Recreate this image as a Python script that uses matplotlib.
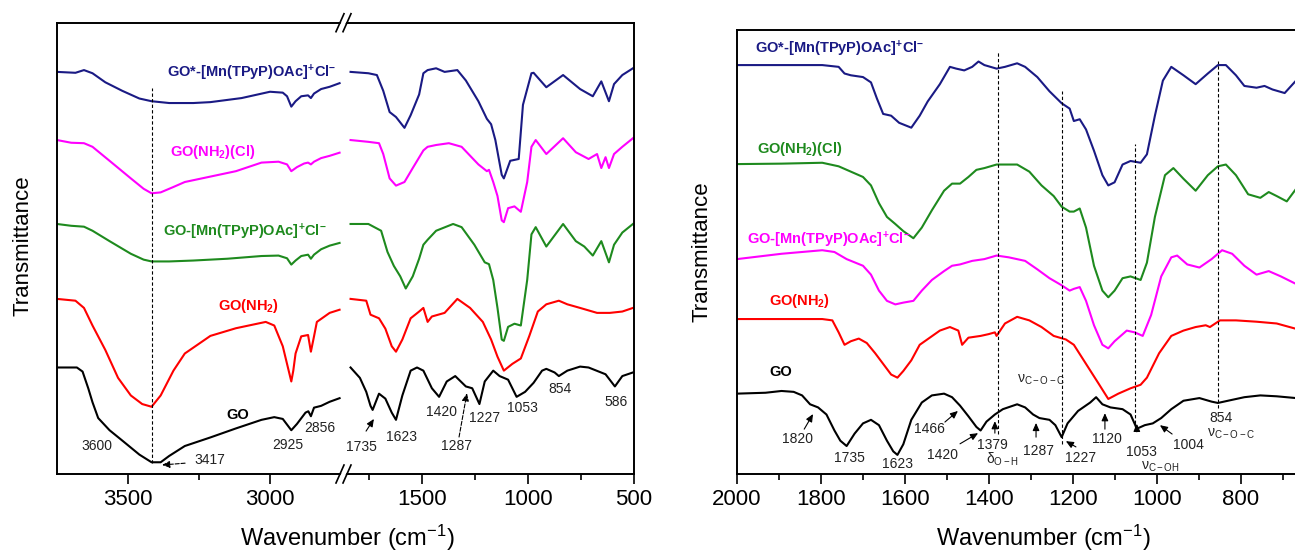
import matplotlib
matplotlib.use('Agg')
import matplotlib.pyplot as plt
from matplotlib.lines import Line2D
from matplotlib.patches import Polygon
from matplotlib.ticker import FixedLocator

plt.rcParams['font.family'] = ['Liberation Sans', 'DejaVu Sans']
plt.rcParams['mathtext.fontset'] = 'custom'
plt.rcParams['mathtext.rm'] = 'Liberation Sans'
plt.rcParams['mathtext.it'] = 'Liberation Sans:italic'
plt.rcParams['mathtext.bf'] = 'Liberation Sans:bold'
plt.rcParams['mathtext.default'] = 'regular'

# ---------------- data: left panel, high-wavenumber segment (3750-2750) ----------------
L_GO_hi_wn = [3750, 3680, 3660, 3640, 3625, 3605, 3565, 3520, 3460, 3417, 3385, 3355, 3300, 3210, 3120,
              3030, 2985, 2955, 2925, 2905, 2875, 2865, 2856, 2845, 2820, 2790, 2755]
L_GO_hi_y = [23.6, 23.6, 22.7, 19.0, 15.9, 12.4, 9.7, 7.4, 4.3, 2.6, 2.6, 4.0, 6.2, 8.1, 10.1,
             12.0, 12.6, 12.2, 9.7, 11.1, 13.6, 13.9, 12.8, 14.7, 15.1, 16.0, 16.8]

L_NH2_hi_wn = [3750, 3685, 3655, 3625, 3580, 3535, 3490, 3450, 3417, 3385, 3340, 3300, 3210, 3120, 3015,
               2985, 2955, 2940, 2925, 2918, 2910, 2890, 2866, 2856, 2845, 2835, 2790, 2755]
L_NH2_hi_y = [38.8, 38.4, 36.8, 32.9, 27.5, 21.3, 17.4, 15.5, 14.9, 17.4, 22.9, 26.7, 30.6, 32.3, 33.7,
              32.9, 28.3, 24.4, 20.5, 22.9, 26.7, 30.5, 30.8, 27.1, 30.5, 33.7, 35.7, 36.4]

L_MN_hi_wn = [3750, 3700, 3655, 3625, 3565, 3490, 3445, 3417, 3355, 3270, 3150, 3030, 2970, 2940, 2925,
              2910, 2890, 2866, 2856, 2845, 2820, 2790, 2755]
L_MN_hi_y = [55.4, 55.0, 54.8, 53.9, 51.6, 48.8, 47.5, 47.1, 47.1, 47.3, 47.7, 48.3, 48.4, 47.8, 46.4,
             47.3, 48.3, 48.6, 47.7, 48.6, 49.8, 50.6, 51.2]

L_NH2CL_hi_wn = [3750, 3700, 3655, 3625, 3565, 3490, 3445, 3417, 3385, 3340, 3300, 3210, 3120, 3030, 2970,
                 2940, 2925, 2905, 2880, 2866, 2856, 2845, 2820, 2790, 2755]
L_NH2CL_hi_y = [74.0, 73.4, 73.3, 72.5, 69.4, 65.5, 63.2, 62.2, 62.4, 63.6, 64.7, 65.9, 67.1, 69.0, 69.2,
                68.6, 67.1, 68.0, 68.8, 69.0, 68.6, 69.2, 70.0, 70.5, 71.2]

L_STAR_hi_wn = [3750, 3685, 3655, 3625, 3580, 3520, 3460, 3417, 3355, 3270, 3210, 3100, 3000, 2955, 2940,
                2925, 2910, 2890, 2866, 2856, 2845, 2820, 2790, 2755]
L_STAR_hi_y = [89.1, 88.9, 89.5, 88.8, 86.8, 84.9, 83.2, 82.6, 82.2, 82.2, 82.4, 83.3, 84.7, 84.5, 83.7,
               81.4, 82.6, 83.7, 83.9, 83.3, 84.3, 85.3, 85.8, 86.6]

# ---------------- data: left panel, low-wavenumber segment (1880-500) ----------------
L_GO_lo_wn = [1835, 1791, 1761, 1741, 1731, 1701, 1671, 1641, 1621, 1591, 1552, 1522, 1492, 1452, 1418,
              1382, 1342, 1292, 1262, 1228, 1203, 1163, 1133, 1093, 1053, 1013, 973, 933, 913, 874, 854,
              814, 754, 714, 634, 590, 555, 505]
L_GO_lo_y = [23.6, 21.3, 18.2, 15.1, 14.2, 17.8, 16.7, 13.6, 12.0, 17.4, 22.9, 23.6, 22.9, 19.0, 17.1,
             20.5, 21.7, 19.4, 19.0, 15.5, 20.5, 22.9, 21.7, 20.9, 17.1, 18.2, 20.2, 22.9, 23.3, 22.5, 21.7,
             22.9, 23.8, 23.6, 22.1, 19.4, 21.7, 22.5]

L_NH2_lo_wn = [1835, 1761, 1741, 1721, 1701, 1671, 1641, 1621, 1591, 1552, 1512, 1492, 1472, 1452, 1392,
               1332, 1272, 1212, 1173, 1143, 1113, 1073, 1033, 993, 953, 913, 854, 814, 754, 674, 614,
               555, 505]
L_NH2_lo_y = [38.8, 38.4, 35.3, 34.9, 34.5, 32.2, 28.3, 27.1, 29.8, 34.5, 36.0, 36.8, 33.7, 34.9, 35.7,
              38.8, 36.8, 33.7, 29.8, 26.0, 22.9, 24.4, 25.6, 30.6, 36.0, 37.6, 38.4, 37.6, 36.8, 35.7, 35.7,
              36.0, 36.8]

L_MN_lo_wn = [1835, 1751, 1691, 1661, 1631, 1601, 1575, 1542, 1512, 1492, 1472, 1432, 1352, 1312, 1252,
              1203, 1183, 1163, 1143, 1123, 1113, 1093, 1063, 1033, 1003, 983, 963, 913, 834, 774, 734,
              694, 654, 618, 594, 555, 505]
L_MN_lo_y = [55.4, 55.4, 53.9, 49.2, 46.1, 43.8, 41.1, 43.8, 47.7, 50.8, 51.9, 53.9, 55.4, 54.7, 50.8,
             46.9, 46.5, 43.0, 36.8, 29.8, 29.5, 32.6, 33.3, 32.9, 43.0, 53.1, 54.7, 50.4, 55.4, 51.6, 50.4,
             48.4, 51.6, 46.9, 50.8, 53.5, 55.4]

L_NH2CL_lo_wn = [1835, 1751, 1701, 1681, 1651, 1621, 1581, 1542, 1492, 1472, 1432, 1372, 1312, 1233, 1193,
                 1183, 1163, 1143, 1123, 1113, 1093, 1063, 1033, 1003, 983, 963, 913, 834, 774, 714, 674,
                 654, 634, 618, 594, 555, 505]
L_NH2CL_lo_y = [74.0, 73.6, 73.3, 70.9, 65.5, 63.9, 64.7, 67.8, 71.7, 72.5, 72.9, 73.3, 72.5, 68.6, 67.1,
                67.4, 64.7, 61.6, 56.2, 55.8, 58.9, 59.3, 58.1, 64.7, 72.5, 74.0, 70.9, 74.4, 71.3, 69.8, 70.9,
                67.8, 70.2, 67.8, 70.9, 72.5, 74.4]

L_STAR_lo_wn = [1835, 1751, 1711, 1681, 1651, 1621, 1581, 1552, 1512, 1492, 1472, 1432, 1392, 1332, 1292,
                1233, 1193, 1173, 1153, 1123, 1113, 1083, 1043, 1023, 983, 973, 913, 834, 754, 694, 654,
                618, 594, 555, 505]
L_STAR_lo_y = [89.1, 88.8, 88.4, 84.9, 80.2, 79.1, 76.7, 79.5, 84.1, 88.8, 89.5, 89.9, 89.1, 89.5, 87.2,
               82.6, 78.7, 77.5, 74.0, 66.3, 65.5, 69.4, 69.8, 81.8, 88.8, 88.9, 85.7, 88.4, 85.3, 83.7, 87.0,
               82.6, 86.4, 88.4, 89.9]

# ---------------- data: right panel (2000-600) ----------------
R_GO_wn = [2000, 1932, 1894, 1865, 1845, 1826, 1807, 1787, 1768, 1754, 1739, 1720, 1700, 1681, 1662,
           1643, 1628, 1618, 1604, 1585, 1560, 1536, 1507, 1488, 1469, 1449, 1430, 1420, 1406, 1386,
           1367, 1333, 1314, 1295, 1280, 1256, 1242, 1227, 1213, 1188, 1159, 1145, 1130, 1111, 1082,
           1063, 1048, 1029, 1010, 990, 966, 937, 899, 870, 855, 831, 792, 754, 715, 669]
R_GO_y = [18.1, 18.3, 18.7, 18.5, 17.7, 15.7, 15.0, 13.4, 9.8, 7.5, 6.3, 9.1, 11.4, 12.2, 11.0,
          7.5, 5.1, 4.3, 6.7, 12.2, 16.1, 17.7, 18.1, 17.3, 15.4, 13.0, 10.6, 9.8, 11.8, 13.4,
          14.6, 15.7, 15.0, 13.4, 12.6, 12.2, 11.0, 8.3, 11.4, 14.2, 16.1, 17.3, 15.7, 15.0, 14.6,
          13.4, 10.2, 11.0, 11.4, 12.6, 14.6, 16.5, 17.1, 16.3, 16.0, 16.5, 17.3, 17.7, 17.5, 17.1]

R_NH2_wn = [2000, 1797, 1773, 1758, 1744, 1729, 1710, 1691, 1671, 1652, 1633, 1618, 1604, 1585, 1565,
            1541, 1517, 1493, 1473, 1464, 1449, 1420, 1401, 1386, 1382, 1362, 1333, 1304, 1275, 1246,
            1217, 1198, 1169, 1140, 1116, 1092, 1063, 1039, 1024, 995, 966, 937, 908, 884, 874, 850,
            812, 763, 715, 669]
R_NH2_y = [34.9, 34.9, 34.6, 31.9, 29.1, 29.9, 30.5, 29.5, 27.2, 24.8, 22.4, 21.7, 23.2, 25.6, 29.1,
           30.7, 32.3, 33.1, 32.3, 29.1, 30.7, 31.1, 31.5, 31.9, 31.1, 33.9, 35.4, 34.6, 33.1, 31.1,
           30.3, 29.1, 24.8, 20.5, 16.9, 18.1, 19.3, 20.1, 21.7, 27.2, 31.1, 32.3, 33.1, 33.5, 33.1, 34.6,
           34.6, 34.3, 33.9, 32.7]

R_MN_wn = [2000, 1894, 1797, 1768, 1739, 1700, 1681, 1662, 1643, 1623, 1604, 1580, 1560, 1536, 1507,
           1488, 1469, 1440, 1411, 1382, 1353, 1314, 1285, 1256, 1227, 1208, 1198, 1184, 1169, 1150,
           1130, 1116, 1101, 1072, 1053, 1034, 1014, 990, 966, 952, 928, 899, 870, 845, 821, 792, 763,
           734, 705, 671]
R_MN_y = [48.4, 49.6, 50.4, 50.0, 48.4, 46.9, 44.9, 41.3, 39.0, 38.2, 38.6, 39.0, 41.3, 43.7, 45.7,
          46.9, 47.2, 48.0, 48.4, 49.2, 48.8, 48.0, 46.1, 44.1, 42.5, 41.3, 41.7, 42.1, 39.0, 33.5,
          29.1, 28.3, 29.9, 32.3, 31.9, 31.1, 35.8, 44.5, 48.8, 49.2, 47.2, 46.5, 48.4, 50.4, 49.6, 46.9, 44.9,
          45.7, 44.5, 42.9]

R_NH2CL_wn = [2000, 1894, 1797, 1758, 1729, 1700, 1681, 1662, 1643, 1623, 1604, 1580, 1560, 1536, 1507,
              1488, 1469, 1449, 1430, 1411, 1382, 1362, 1333, 1304, 1275, 1246, 1227, 1208, 1198, 1184,
              1169, 1150, 1130, 1116, 1101, 1082, 1063, 1039, 1024, 1005, 981, 961, 937, 908, 879, 855,
              836, 812, 783, 754, 734, 715, 691, 669]
R_NH2CL_y = [69.8, 69.9, 70.1, 69.3, 68.1, 66.9, 65.0, 61.0, 57.9, 56.3, 54.7, 53.1, 55.5, 59.4, 63.8,
             65.4, 65.4, 66.9, 68.5, 68.9, 69.7, 69.7, 69.7, 68.1, 65.0, 62.6, 60.2, 59.1, 59.1, 59.8,
             55.5, 46.9, 41.3, 39.8, 41.3, 44.1, 44.5, 43.7, 47.6, 57.9, 67.3, 68.9, 66.5, 63.8, 67.3, 69.3,
             69.7, 67.3, 63.0, 62.2, 63.5, 62.6, 61.4, 64.2]

R_STAR_wn = [2000, 1894, 1797, 1758, 1744, 1729, 1700, 1681, 1667, 1652, 1633, 1614, 1585, 1565, 1546,
             1517, 1493, 1478, 1459, 1440, 1425, 1411, 1382, 1362, 1333, 1314, 1285, 1256, 1227, 1208,
             1198, 1184, 1169, 1150, 1130, 1116, 1101, 1082, 1063, 1039, 1024, 1005, 986, 966, 937, 908,
             879, 855, 836, 812, 792, 763, 744, 725, 696, 669]
R_STAR_y = [92.1, 92.1, 92.1, 91.7, 90.2, 89.8, 89.4, 88.2, 84.6, 81.1, 80.7, 79.1, 78.0, 80.7, 83.9,
            87.8, 91.7, 91.3, 90.9, 91.7, 92.9, 92.1, 91.3, 91.7, 92.5, 91.7, 89.4, 86.2, 83.5, 82.3,
            79.5, 79.9, 77.6, 72.8, 67.3, 65.0, 65.7, 69.7, 70.5, 70.1, 72.0, 80.7, 88.6, 91.7, 89.8, 87.8,
            90.2, 92.1, 92.1, 89.8, 87.4, 87.0, 87.4, 86.6, 85.8, 88.6]

# labels
LBL_STAR = r'GO*-[Mn(TPyP)OAc]$^{+}$Cl$^{-}$'
LBL_NH2CL = r'GO(NH$_{2}$)(Cl)'
LBL_MN = r'GO-[Mn(TPyP)OAc]$^{+}$Cl$^{-}$'
LBL_NH2 = r'GO(NH$_{2}$)'
LBL_GO = 'GO'

NAVY = '#1a1a84'
MAGENTA = '#ff00ff'
GREEN = '#1e8a1e'
RED = '#ff0000'
BLACK = '#000000'
ANN = '#222222'

W, H = 1295, 551
fig = plt.figure(figsize=(W / 100, H / 100), dpi=100)


def fx(x):
    return x / W


def fy(y):
    return 1 - y / H


def frame(ax):
    for s in ax.spines.values():
        s.set_linewidth(1.4)
    ax.tick_params(axis='x', which='major', direction='out', length=7, width=1.2, labelsize=16, pad=4)
    ax.tick_params(axis='x', which='minor', direction='out', length=4, width=1.2)
    ax.set_yticks([])
    ax.set_ylim(0, 100)


# left panel axes
top_l, bot = 22.7, 474
ax_a = fig.add_axes([fx(57), fy(bot), fx(341 - 57), (bot - top_l) / H])
ax_b = fig.add_axes([fx(341), fy(bot), fx(634 - 341), (bot - top_l) / H])
top_r = 30
ax_r = fig.add_axes([fx(737), fy(bot), fx(1325 - 737), (bot - top_r) / H])

for ax in (ax_a, ax_b, ax_r):
    frame(ax)
ax_a.spines['right'].set_visible(False)
ax_b.spines['left'].set_visible(False)

ax_a.set_xlim(3750, 2750)
ax_a.xaxis.set_major_locator(FixedLocator([3500, 3000]))
ax_a.xaxis.set_minor_locator(FixedLocator([3250]))
ax_b.set_xlim(1880, 500)
ax_b.xaxis.set_major_locator(FixedLocator([1500, 1000, 500]))
ax_b.xaxis.set_minor_locator(FixedLocator([1750, 1250, 750]))
ax_r.set_xlim(2000, 600)
ax_r.xaxis.set_major_locator(FixedLocator([2000, 1800, 1600, 1400, 1200, 1000, 800]))
ax_r.xaxis.set_minor_locator(FixedLocator([1900, 1700, 1500, 1300, 1100, 900, 700]))

LW = 1.5
left_series = [
    (L_STAR_hi_wn, L_STAR_hi_y, L_STAR_lo_wn, L_STAR_lo_y, NAVY),
    (L_NH2CL_hi_wn, L_NH2CL_hi_y, L_NH2CL_lo_wn, L_NH2CL_lo_y, MAGENTA),
    (L_MN_hi_wn, L_MN_hi_y, L_MN_lo_wn, L_MN_lo_y, GREEN),
    (L_NH2_hi_wn, L_NH2_hi_y, L_NH2_lo_wn, L_NH2_lo_y, RED),
    (L_GO_hi_wn, L_GO_hi_y, L_GO_lo_wn, L_GO_lo_y, BLACK),
]
for hw, hy, lw_, ly, c in left_series:
    ax_a.plot(hw, hy, color=c, lw=LW)
    ax_b.plot(lw_, ly, color=c, lw=LW)

right_series = [
    (R_STAR_wn, R_STAR_y, NAVY),
    (R_NH2CL_wn, R_NH2CL_y, GREEN),
    (R_MN_wn, R_MN_y, MAGENTA),
    (R_NH2_wn, R_NH2_y, RED),
    (R_GO_wn, R_GO_y, BLACK),
]
for w_, y_, c in right_series:
    ax_r.plot(w_, y_, color=c, lw=LW)

# dashed guide lines
DASH = dict(color='k', lw=0.8, ls=(0, (3, 2)))
ax_a.plot([3417, 3417], [2.4, 85.5], **DASH)
for xv, y0, y1 in [(1379, 9.0, 95.3), (1227, 6.8, 86.3), (1053, 10.1, 74.3), (854, 14.9, 93.0)]:
    ax_r.plot([xv, xv], [y0, y1], **DASH)

# series labels
LFS = 10.5
ax_a.text(3063, 88.9, LBL_STAR, color=NAVY, fontsize=LFS, fontweight='bold', ha='center', va='center')
ax_a.text(3201, 71.3, LBL_NH2CL, color=MAGENTA, fontsize=LFS, fontweight='bold', ha='center', va='center')
ax_a.text(3088, 53.6, LBL_MN, color=GREEN, fontsize=LFS, fontweight='bold', ha='center', va='center')
ax_a.text(3074, 37.2, LBL_NH2, color=RED, fontsize=LFS, fontweight='bold', ha='center', va='center')
ax_a.text(3113, 13.1, LBL_GO, color=BLACK, fontsize=LFS, fontweight='bold', ha='center', va='center')

ax_r.text(1957, 95.7, LBL_STAR, color=NAVY, fontsize=LFS, fontweight='bold', ha='left', va='center')
ax_r.text(1952, 73.2, LBL_NH2CL, color=GREEN, fontsize=LFS, fontweight='bold', ha='left', va='center')
ax_r.text(1976, 52.7, LBL_MN, color=MAGENTA, fontsize=LFS, fontweight='bold', ha='left', va='center')
ax_r.text(1924, 39.0, LBL_NH2, color=RED, fontsize=LFS, fontweight='bold', ha='left', va='center')
ax_r.text(1924, 23.0, LBL_GO, color=BLACK, fontsize=LFS, fontweight='bold', ha='left', va='center')

# peak annotations
AFS = 10
def note(ax, x, y, s, **kw):
    ax.text(x, y, s, fontsize=AFS, color=ANN, ha='center', va='center', **kw)


def arrow(ax, tail, head, ls='-'):
    ax.annotate('', xy=head, xytext=tail,
                arrowprops=dict(arrowstyle='-|>,head_length=0.45,head_width=0.2', color='k',
                                lw=0.8, ls=ls, shrinkA=0, shrinkB=0))


note(ax_a, 3609, 6.2, '3600')
note(ax_a, 3211, 3.1, '3417')
arrow(ax_a, (3299, 2.4), (3380, 2.0), ls='--')
note(ax_a, 2937, 6.4, '2925')
note(ax_a, 2824, 10.2, '2856')

note(ax_b, 1786, 6.0, '1735')
arrow(ax_b, (1762, 9.5), (1725, 12.2))
note(ax_b, 1593, 8.2, '1623')
note(ax_b, 1409, 13.7, '1420')
note(ax_b, 1334, 6.2, '1287')
arrow(ax_b, (1324, 8.2), (1287, 17.9), ls='--')
note(ax_b, 1202, 12.4, '1227')
note(ax_b, 1027, 14.6, '1053')
note(ax_b, 848, 18.8, '854')
note(ax_b, 585, 16.0, '586')

note(ax_r, 1855, 7.9, '1820')
arrow(ax_r, (1840, 10.1), (1819, 13.5))
note(ax_r, 1733, 3.6, '1735')
note(ax_r, 1619, 2.3, '1623')
note(ax_r, 1543, 10.1, '1466')
arrow(ax_r, (1505, 11.7), (1474, 14.2))
note(ax_r, 1510, 4.3, '1420')
arrow(ax_r, (1469, 6.8), (1426, 9.2))
note(ax_r, 1393, 6.5, '1379')
arrow(ax_r, (1386, 9.2), (1386, 11.9))
note(ax_r, 1369, 3.4, r'δ$_{O-H}$')
note(ax_r, 1281, 5.2, '1287')
arrow(ax_r, (1288, 8.3), (1288, 11.5))
note(ax_r, 1276, 21.2, r'ν$_{C-O-C}$')
note(ax_r, 1181, 3.6, '1227')
arrow(ax_r, (1193, 6.1), (1217, 7.4))
note(ax_r, 1119, 7.9, '1120')
arrow(ax_r, (1124, 10.1), (1124, 13.7))
note(ax_r, 1036, 5.0, '1053')
arrow(ax_r, (1048, 9.5), (1048, 11.3))
note(ax_r, 993, 1.6, r'ν$_{C-OH}$')
note(ax_r, 926, 6.5, '1004')
arrow(ax_r, (964, 9.0), (993, 11.0))
note(ax_r, 848, 12.6, '854')
note(ax_r, 824, 9.0, r'ν$_{C-O-C}$')

# axis titles
fig.text(fx(23), fy(246), 'Transmittance', rotation=90, fontsize=16, ha='center', va='center')
fig.text(fx(702), fy(252), 'Transmittance', rotation=90, fontsize=16, ha='center', va='center')
fig.text(fx(347), fy(538), r'Wavenumber (cm$^{-1}$)', fontsize=17, ha='center', va='center')
fig.text(fx(1043), fy(538), r'Wavenumber (cm$^{-1}$)', fontsize=17, ha='center', va='center')

# axis break marks
for yb in (bot, top_l):
    gap = Polygon([(fx(337), fy(yb + 9)), (fx(345), fy(yb - 9)), (fx(350), fy(yb - 9)), (fx(342), fy(yb + 9))],
                  closed=True, transform=fig.transFigure, facecolor='white', edgecolor='none', zorder=10)
    fig.add_artist(gap)
    for dx in (0, 7):
        fig.add_artist(Line2D([fx(336 + dx), fx(344 + dx)], [fy(yb + 9), fy(yb - 9)],
                              transform=fig.transFigure, color='k', lw=1.2, zorder=11))

fig.savefig('out.png', dpi=100)
